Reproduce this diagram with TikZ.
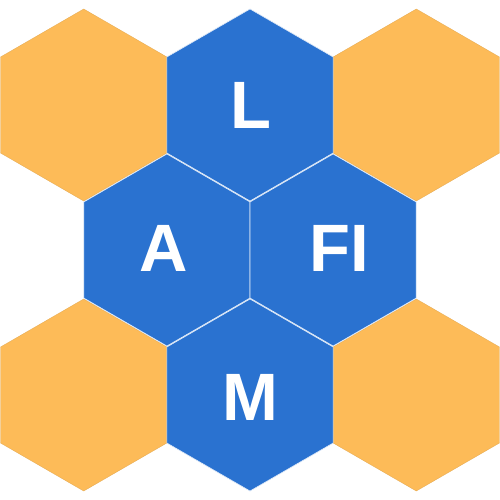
\documentclass[tikz,border=0pt]{standalone}
\usepackage{fontspec}
\setmainfont{Liberation Sans}
\usetikzlibrary{shapes.geometric,calc}
\definecolor{hexblue}{HTML}{2A72D0}
\definecolor{hexorange}{HTML}{FDBB58}
\begin{document}
\begin{tikzpicture}[x=1pt,y=-1pt,
  hexa/.style={regular polygon, regular polygon sides=6, minimum size=192pt, inner sep=0pt, shape border rotate=30, line width=0.6pt},
  bluehex/.style={hexa, fill=hexblue, draw=white!85!hexblue},
  orangehex/.style={hexa, fill=hexorange, draw=hexorange!90!black, line width=0.3pt},
  lbl/.style={text=white, inner sep=0pt, font=\fontsize{67}{67}\selectfont\bfseries}]
\useasboundingbox (0,0) rectangle (500,500);
\fill[white] (0,0) rectangle (500,500);
\node[orangehex] (otl) at (83.7,105) {};
\node[orangehex] (otr) at (416.3,105) {};
\node[orangehex] (obl) at (83.7,395) {};
\node[orangehex] (obr) at (416.3,395) {};
\node[bluehex] (hl) at (250,105) {};
\node[bluehex] (ha) at (166.9,250) {};
\node[bluehex] (hf) at (333.1,250) {};
\node[bluehex] (hm) at (250,395) {};
\node[lbl] (tl) at ($(hl.center)+(1,0.5)$) {L};
\node[lbl] (ta) at ($(ha.center)+(-3,-2)$) {A};
\node[lbl] (tf) at ($(hf.center)+(6,-2)$) {FI};
\node[lbl] (tm) at ($(hm.center)+(0,2)$) {M};
\end{tikzpicture}
\end{document}
